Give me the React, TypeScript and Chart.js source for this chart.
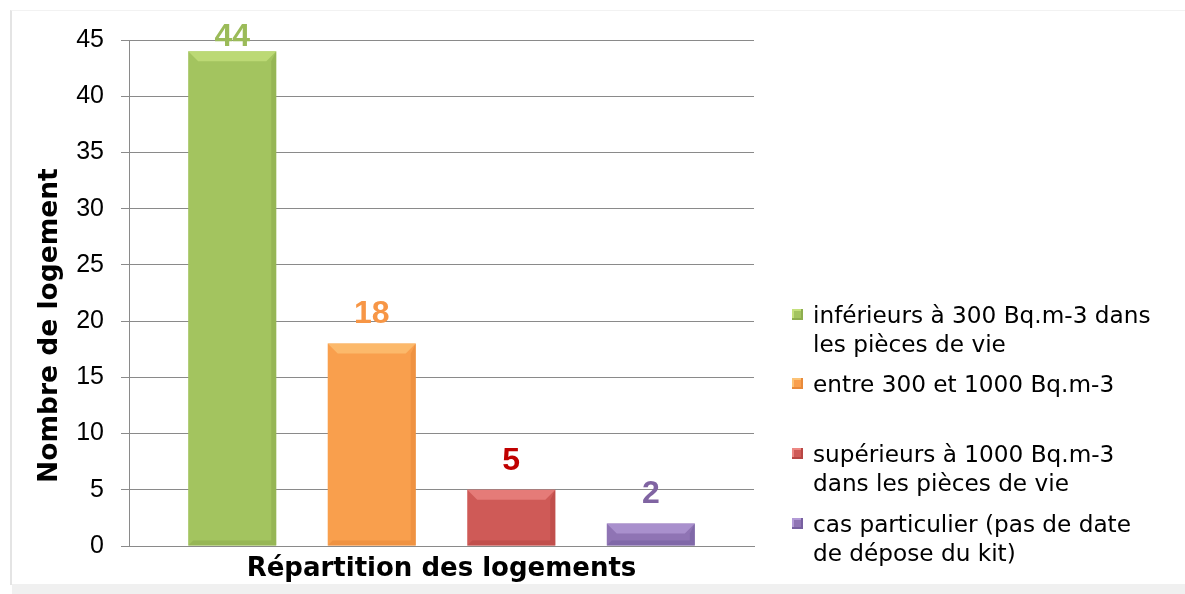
import React, { useEffect, useRef } from "react";
import { Chart, registerables } from "chart.js";

Chart.register(...registerables);

const categories = [""];
const seriesNames = [
  ["inférieurs à 300 Bq.m-3 dans", "les pièces de vie"],
  ["entre 300 et 1000 Bq.m-3"],
  ["supérieurs à 1000 Bq.m-3", "dans les pièces de vie"],
  ["cas particulier (pas de date", "de dépose du kit)"],
];
const seriesValues = [44, 18, 5, 2];
const barColors = ["#a3c45f", "#f99f4d", "#cf5a57", "#8f74b4"];
const barDark = ["#8eae4f", "#e88a3a", "#b84744", "#7760a0"];
const barLight = ["#c4e07c", "#fcc276", "#ec8783", "#b29ad6"];
const labelColors = ["#9BBB59", "#F79646", "#C00000", "#8064A2"];
const yTicks = [0, 5, 10, 15, 20, 25, 30, 35, 40, 45];
const yTitle = "Nombre de logement";
const xTitle = "Répartition des logements";

const bevelPlugin = {
  id: "bevel",
  afterDatasetsDraw(chart: any) {
    const ctx = chart.ctx;
    chart.data.datasets.forEach((ds: any, i: number) => {
      const meta = chart.getDatasetMeta(i);
      meta.data.forEach((bar: any) => {
        const left = bar.x - bar.width / 2;
        const right = bar.x + bar.width / 2;
        const top = bar.y;
        const bottom = bar.base;
        const h = bottom - top;
        const b = Math.min(10, h / 2);
        ctx.save();
        ctx.fillStyle = barLight[i];
        ctx.globalAlpha = 0.75;
        ctx.beginPath();
        ctx.moveTo(left, top);
        ctx.lineTo(right, top);
        ctx.lineTo(right - b, top + b);
        ctx.lineTo(left + b, top + b);
        ctx.closePath();
        ctx.fill();
        ctx.fillStyle = barDark[i];
        ctx.globalAlpha = 0.6;
        ctx.beginPath();
        ctx.moveTo(right, top);
        ctx.lineTo(right, bottom);
        ctx.lineTo(right - b / 2, bottom - b / 2);
        ctx.lineTo(right - b / 2, top + b);
        ctx.closePath();
        ctx.fill();
        ctx.beginPath();
        ctx.moveTo(left, bottom);
        ctx.lineTo(right, bottom);
        ctx.lineTo(right - b / 2, bottom - b / 2);
        ctx.lineTo(left + b / 2, bottom - b / 2);
        ctx.closePath();
        ctx.fill();
        ctx.restore();
      });
    });
  },
};

const labelPlugin = {
  id: "valueLabels",
  afterDatasetsDraw(chart: any) {
    const ctx = chart.ctx;
    ctx.save();
    ctx.font = "bold 32px 'Liberation Sans', Arial, sans-serif";
    ctx.textAlign = "center";
    ctx.textBaseline = "middle";
    chart.data.datasets.forEach((ds: any, i: number) => {
      const meta = chart.getDatasetMeta(i);
      meta.data.forEach((bar: any, j: number) => {
        const y = Math.max(bar.y - 29, chart.chartArea.top - 3);
        ctx.fillStyle = labelColors[i];
        ctx.fillText(String(ds.data[j]), bar.x, y);
      });
    });
    // y axis title, placed like the original (slightly below the plot centre)
    const yScale = chart.scales.y;
    const cy = yScale.getPixelForValue(19.6);
    ctx.translate(50, cy);
    ctx.rotate(-Math.PI / 2);
    ctx.font = "bold 26.5px 'DejaVu Sans', sans-serif";
    ctx.fillStyle = "#000";
    ctx.fillText(yTitle, 0, 0);
    ctx.restore();
  },
};

export default function App() {
  const ref = useRef<HTMLCanvasElement>(null);
  useEffect(() => {
    if (!ref.current) return;
    const chart = new Chart(ref.current, {
      type: "bar",
      data: {
        labels: categories,
        datasets: seriesValues.map((v, i) => ({
          label: seriesNames[i].join(" "),
          data: [v],
          backgroundColor: barColors[i],
          borderWidth: 0,
          categoryPercentage: 0.893,
          barPercentage: 0.631,
        })),
      },
      options: {
        animation: false,
        responsive: false,
        maintainAspectRatio: false,
        layout: { padding: { top: 40, right: 431, left: 0, bottom: 0 } },
        plugins: {
          legend: { display: false },
          tooltip: { enabled: false },
        },
        scales: {
          x: {
            ticks: { display: false },
            grid: { display: false, drawTicks: false },
            border: { display: true, color: "#8a8a8a", width: 1 },
            title: {
              display: true,
              text: xTitle,
              color: "#000",
              font: { family: "'DejaVu Sans', sans-serif", size: 26, weight: "bold" },
              padding: { top: 0, bottom: 9 },
            },
            afterFit(scale: any) {
              scale.height = 48;
            },
          },
          y: {
            min: 0,
            max: 45,
            afterBuildTicks(scale: any) {
              scale.ticks = yTicks.map((v) => ({ value: v }));
            },
            ticks: {
              color: "#000",
              padding: 17,
              font: { family: "'Liberation Sans', Arial, sans-serif", size: 25 },
            },
            grid: { color: "#8a8a8a", lineWidth: 1, tickLength: 8, drawTicks: true },
            border: { display: true, color: "#8a8a8a", width: 1 },
            title: { display: false },
            afterFit(scale: any) {
              scale.width = 129;
            },
          },
        },
      },
      plugins: [bevelPlugin, labelPlugin],
    });
    return () => chart.destroy();
  }, []);

  const itemTops = [300, 369, 439, 509];
  return (
    <div
      style={{
        position: "absolute",
        left: 0,
        top: 0,
        width: 1185,
        height: 594,
        background: "#fff",
        overflow: "hidden",
      }}
    >
      <div
        style={{
          position: "absolute",
          left: 10,
          top: 10,
          width: 1175,
          height: 574,
          borderLeft: "2px solid #e4e4e4",
          borderTop: "1px solid #f2f2f2",
        }}
      />
      <div
        style={{
          position: "absolute",
          left: 12,
          top: 584,
          width: 1173,
          height: 10,
          background: "#f0f0f0",
        }}
      />
      <canvas ref={ref} width={1185} height={594} style={{ position: "absolute", left: 0, top: 0 }} />
      {seriesNames.map((lines, i) => (
        <div
          key={i}
          style={{
            position: "absolute",
            left: 792,
            top: itemTops[i],
            fontFamily: "'DejaVu Sans', sans-serif",
            fontSize: 23.2,
            lineHeight: "29px",
            color: "#000",
            whiteSpace: "nowrap",
          }}
        >
          <span
            style={{
              position: "absolute",
              left: 0,
              top: 9,
              width: 11,
              height: 11,
              background: barColors[i],
              boxShadow: `inset -2px -2px 0 ${barDark[i]}, inset 2px 2px 0 ${barLight[i]}`,
            }}
          />
          <div style={{ marginLeft: 21 }}>
            {lines.map((l, k) => (
              <div key={k}>{l}</div>
            ))}
          </div>
        </div>
      ))}
    </div>
  );
}
